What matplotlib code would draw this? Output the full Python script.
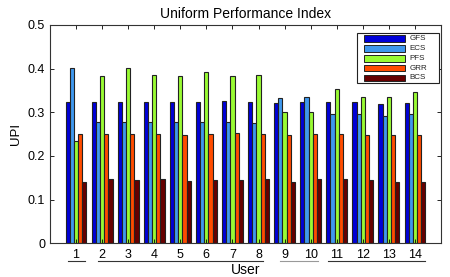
import matplotlib
matplotlib.use("Agg")
import matplotlib.pyplot as plt
import matplotlib.transforms as mtransforms
from matplotlib.patches import Rectangle
import numpy as np

plt.rcParams['font.family'] = ['Liberation Sans', 'DejaVu Sans']

users = list(range(1, 15))
series_names = ["GFS", "ECS", "PFS", "GRR", "BCS"]
gfs = [0.323, 0.323, 0.323, 0.323, 0.323, 0.323, 0.325, 0.323, 0.321, 0.323, 0.324, 0.323, 0.320, 0.321]
ecs = [0.401, 0.277, 0.277, 0.277, 0.277, 0.278, 0.278, 0.276, 0.332, 0.335, 0.296, 0.295, 0.292, 0.295]
pfs = [0.233, 0.382, 0.401, 0.386, 0.382, 0.392, 0.382, 0.385, 0.300, 0.300, 0.353, 0.336, 0.336, 0.346]
grr = [0.250, 0.251, 0.250, 0.251, 0.249, 0.251, 0.253, 0.251, 0.248, 0.251, 0.251, 0.249, 0.249, 0.248]
bcs = [0.140, 0.146, 0.144, 0.146, 0.143, 0.145, 0.145, 0.146, 0.141, 0.146, 0.146, 0.145, 0.141, 0.141]
colors = ["#0000d8", "#3f98ee", "#99fb33", "#ff4c00", "#660000"]
# tick-label underline spans (x ranges) and their colours
underline_spans = [(0.70, 1.35), (1.85, 8.17), (8.82, 10.28), (10.66, 14.38)]
underline_colors = ["#333333", "#333333", "#999999", "#333333"]

data = [gfs, ecs, pfs, grr, bcs]

fig = plt.figure(figsize=(4.5, 2.77), dpi=100)
ax = fig.add_axes([0.111, 0.122, 0.869, 0.788])

x = np.array(users, dtype=float)
n = len(data)
w = 0.8 / n
for i, (vals, name, c) in enumerate(zip(data, series_names, colors)):
    ax.bar(x + (i - (n - 1) / 2) * w, vals, width=w, color=c,
           edgecolor="#222222", linewidth=0.8, label=name)

ax.set_xlim(0, 15)
ax.set_ylim(0, 0.5)
ax.set_xticks(users)
ax.set_xticklabels([str(u) for u in users])
ax.set_yticks([0, 0.1, 0.2, 0.3, 0.4, 0.5])
ax.set_yticklabels(["0", "0.1", "0.2", "0.3", "0.4", "0.5"])
ax.tick_params(direction="in", top=True, right=True, length=3, width=0.6,
               labelsize=9)
ax.tick_params(axis="x", pad=4.5)
ax.tick_params(axis="y", pad=3.5)
for s in ax.spines.values():
    s.set_linewidth(0.8)
    s.set_color("#333333")

ax.set_title("Uniform Performance Index", fontsize=10, pad=5)
ax.set_xlabel("User", fontsize=10, labelpad=1.0)
ax.set_ylabel("UPI", fontsize=9.5, labelpad=4)

trans = mtransforms.blended_transform_factory(ax.transData, ax.transAxes)
for (x0, x1), c in zip(underline_spans, underline_colors):
    ax.plot([x0, x1], [-0.08, -0.08], transform=trans, color=c,
            linewidth=0.8, clip_on=False)

# MATLAB-style legend box (axes-fraction layout)
box_x0, box_x1, box_y0, box_y1 = 0.785, 0.996, 0.734, 0.963
ax.add_patch(Rectangle((box_x0, box_y0), box_x1 - box_x0, box_y1 - box_y0,
                       transform=ax.transAxes, facecolor="white",
                       edgecolor="#222222", linewidth=0.8, zorder=5))
h_x0, h_x1, t_x = 0.804, 0.909, 0.919
row_top0, row_pitch, h_h = 0.9525, 0.0450, 0.0307
for i, (name, c) in enumerate(zip(series_names, colors)):
    top = row_top0 - i * row_pitch
    ax.add_patch(Rectangle((h_x0, top - h_h), h_x1 - h_x0, h_h,
                           transform=ax.transAxes, facecolor=c,
                           edgecolor="#222222", linewidth=0.7, zorder=6))
    ax.text(t_x, top - h_h / 2, name, transform=ax.transAxes, fontsize=5.8,
            va="center", ha="left", zorder=6, color="#222222")

fig.savefig("out.png", dpi=100)
